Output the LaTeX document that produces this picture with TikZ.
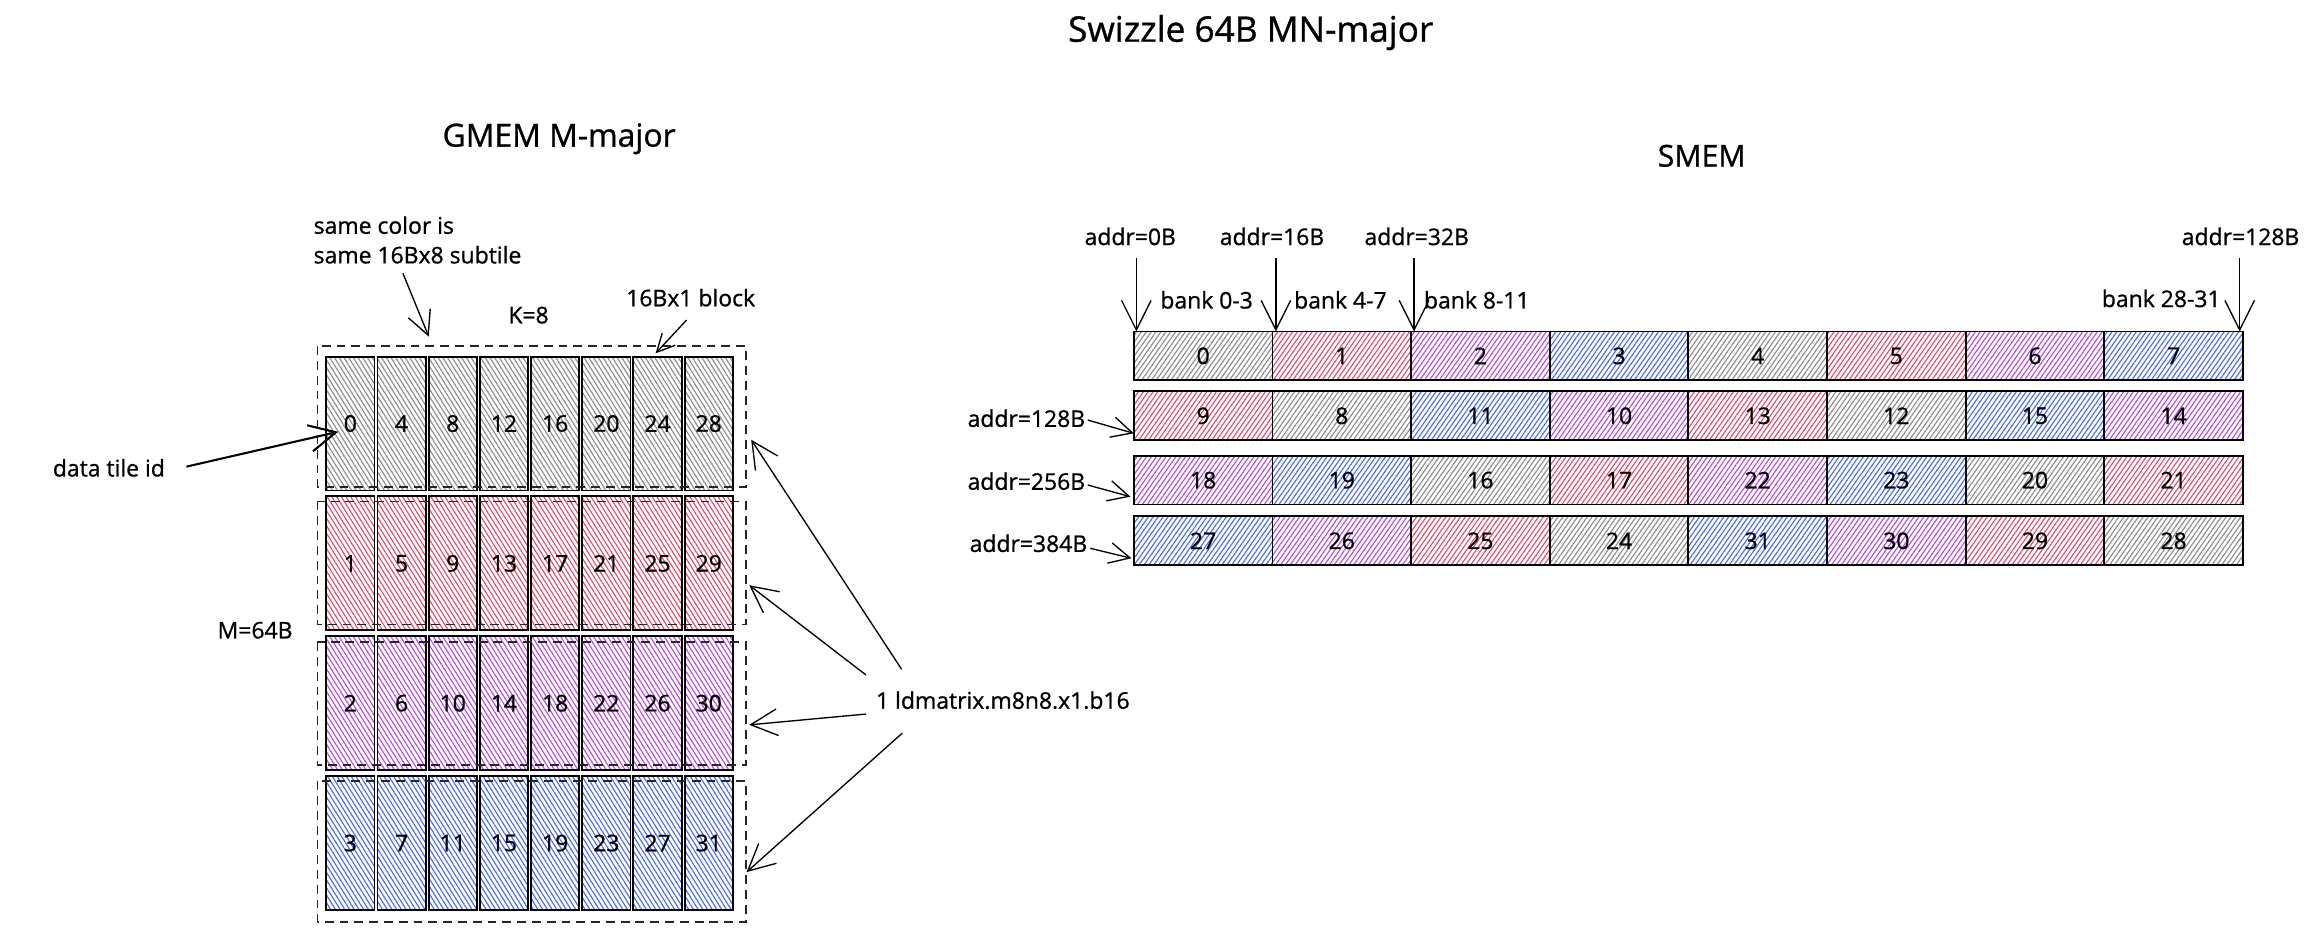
\documentclass[tikz,border=0pt]{standalone}
\usepackage{fontspec}
\setmainfont{Open Sans}[FakeBold=0.9]
\usetikzlibrary{arrows.meta,patterns.meta}
\definecolor{hgr}{HTML}{8F8F8F}
\definecolor{hpk}{HTML}{DC5173}
\definecolor{hpu}{HTML}{B650DA}
\definecolor{hbl}{HTML}{4E6FE8}
\newcommand\lblfont{\fontsize{15.5}{18}\selectfont}
\newcommand\ttlfont{\fontsize{23.8}{28}\selectfont}
\newcommand\hdrfont{\fontsize{21.5}{26}\selectfont}
\newcommand\smrow[2]{%
  \foreach \cid [count=\cj from 0] in {#2} {%
    \pgfmathtruncatemacro\cmod{mod(\cid,4)}%
    \pgfmathsetmacro\cxx{766.3+93.7*\cj}%
    \node[scell,sh\cmod] (s\cid) at (\cxx,#1) {\cid};%
  }%
}
\begin{document}
\begin{tikzpicture}[x=1pt,y=-1pt,
  cellbox/.style={draw=black,line width=1.25pt,inner sep=0pt,outer sep=0pt,anchor=north west,font=\lblfont},
  lcell/.style={cellbox,minimum width=32.6pt,minimum height=90.5pt},
  scell/.style={cellbox,minimum width=93.7pt,minimum height=33pt},
  lhatch/.style={pattern={Lines[angle=-58,distance=2.7pt,line width=0.8pt]},pattern color=#1},
  shatch/.style={pattern={Lines[angle=55,distance=2.7pt,line width=0.8pt]},pattern color=#1},
  lh0/.style={lhatch=hgr}, lh1/.style={lhatch=hpk}, lh2/.style={lhatch=hpu}, lh3/.style={lhatch=hbl},
  sh0/.style={shatch=hgr}, sh1/.style={shatch=hpk}, sh2/.style={shatch=hpu}, sh3/.style={shatch=hbl},
  lbl/.style={font=\lblfont,inner sep=0pt,anchor=base},
  arr/.style={line width=0.9pt,-{Straight Barb[length=#1pt,width=#1pt]}},
  grp/.style={draw=black!85,dash pattern=on 6pt off 4pt,line width=1.1pt},
]
\useasboundingbox[fill=white] (0,0) rectangle (1568,634);

% titles
\node[font=\ttlfont,inner sep=0pt,anchor=base] (title) at (845.3,28.2) {Swizzle 64B MN-major};
\node[font=\hdrfont,inner sep=0pt,anchor=base] (gmem) at (377.9,99.1) {GMEM M-major};
\node[font=\fontsize{20.4}{24}\selectfont,inner sep=0pt,anchor=base] (smem) at (1150.1,112.6) {SMEM};

% GMEM grid
\foreach \i in {0,...,7} {
  \foreach \r in {0,1,2,3} {
    \pgfmathtruncatemacro\cid{4*\i+\r}
    \pgfmathsetmacro\cxx{220.5+34.6*\i}
    \pgfmathsetmacro\cyy{241+94.5*\r}
    \node[lcell,lh\r] (g\cid) at (\cxx,\cyy) {\cid};
  }
}
% ldmatrix groups
\draw[grp] (214.5,234) rectangle (504,329);
\draw[grp] (214.5,339) rectangle (504,422);
\draw[grp] (214.5,434) rectangle (504,517);
\draw[grp] (214.5,528) rectangle (504,623);

% GMEM labels
\node[lbl,anchor=base west] (sc1) at (211.8,158) {same color is};
\node[lbl,anchor=base west] (sc2) at (211.8,178) {same 16Bx8 subtile};
\node[lbl] (k8) at (357.2,218.5) {K=8};
\node[lbl] (blk) at (466.8,207) {16Bx1 block};
\node[lbl] (dti) at (73.6,322) {data tile id};
\node[lbl] (m64) at (172.4,431.5) {M=64B};
\node[lbl] (ldm) at (677.8,479) {1 ldmatrix.m8n8.x1.b16};

\coordinate (scA) at (272.3,184.7);  \coordinate (scB) at (289.8,227.5);
\coordinate (blA) at (464,216.3);    \coordinate (blB) at (443.1,238.8);
\coordinate (dtA) at (126,315.4);    \coordinate (dtB) at (228.6,291.8);
\coordinate (l1A) at (609.4,452.4);  \coordinate (l1B) at (507.7,297.2);
\coordinate (l2A) at (585.3,456.2);  \coordinate (l2B) at (506.4,395.5);
\coordinate (l3A) at (585.3,482.6);  \coordinate (l3B) at (506.4,489.9);
\coordinate (l4A) at (609.8,495.5);  \coordinate (l4B) at (504.6,589.4);
\draw[arr=16] (scA) -- (scB);
\draw[arr=12] (blA) -- (blB);
\draw[arr=18,line width=1.4pt] (dtA) -- (dtB);
\draw[arr=18] (l1A) -- (l1B);
\draw[arr=18] (l2A) -- (l2B);
\draw[arr=18] (l3A) -- (l3B);
\draw[arr=18] (l4A) -- (l4B);

% SMEM grid
\smrow{224}{0,1,2,3,4,5,6,7}
\smrow{264.5}{9,8,11,10,13,12,15,14}
\smrow{308}{18,19,16,17,22,23,20,21}
\smrow{349}{27,26,25,24,31,30,29,28}

% SMEM labels
\node[lbl] (ad0) at (763.9,165.6) {addr=0B};
\node[lbl] (ad16) at (859.7,165.6) {addr=16B};
\node[lbl] (ad32) at (957.5,165.6) {addr=32B};
\node[lbl] (ad128t) at (1514.3,165.6) {addr=128B};
\node[lbl] (bk0) at (815.5,208.5) {bank 0-3};
\node[lbl] (bk4) at (905.9,208.5) {bank 4-7};
\node[lbl] (bk8) at (998.1,208.5) {bank 8-11};
\node[lbl] (bk28) at (1460.7,207.5) {bank 28-31};
\node[lbl,anchor=base east] (ad128) at (733.6,288.5) {addr=128B};
\node[lbl,anchor=base east] (ad256) at (733.6,331) {addr=256B};
\node[lbl,anchor=base east] (ad384) at (735,373) {addr=384B};

\coordinate (tA) at (768,174.6);
\coordinate (tB) at (862.3,174.6);
\coordinate (tC) at (955.7,174.6);
\coordinate (tD) at (1513.7,174.6);
\draw[arr=20] (tA) -- (tA |- s0.north);
\draw[arr=20] (tB) -- (tB |- s1.north);
\draw[arr=20] (tC) -- (tC |- s2.north);
\draw[arr=20] (tD) -- (tD |- s7.north);

\coordinate (r1A) at (735.2,283.9); \coordinate (r1B) at (766.3,292.9);
\coordinate (r2A) at (735.2,327.8); \coordinate (r2B) at (764,335.7);
\coordinate (r3A) at (736.9,370.6); \coordinate (r3B) at (764.7,377.3);
\draw[arr=14] (r1A) -- (r1B);
\draw[arr=14] (r2A) -- (r2B);
\draw[arr=14] (r3A) -- (r3B);
\end{tikzpicture}
\end{document}
